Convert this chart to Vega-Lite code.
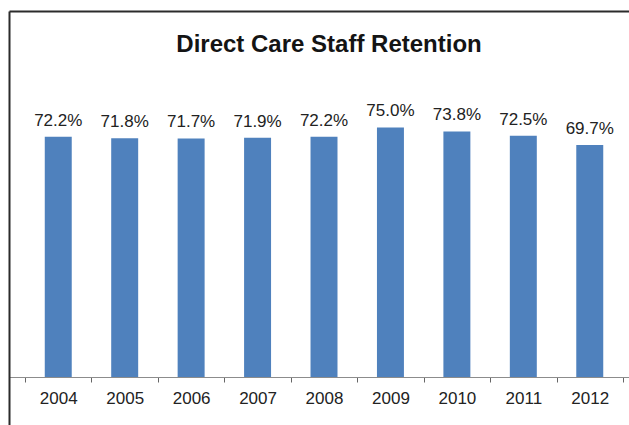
{
  "$schema": "https://vega.github.io/schema/vega-lite/v6.json",
  "autosize": {"type": "none"},
  "width": 620,
  "height": 414,
  "padding": {"left": 9, "top": 11, "right": 0, "bottom": 0},
  "background": "white",
  "config": {"view": {"stroke": null}, "font": "Liberation Sans"},
  "title": {
    "text": "Direct Care Staff Retention",
    "font": "Liberation Sans",
    "fontSize": 24,
    "fontWeight": "bold",
    "color": "#141414",
    "anchor": "middle",
    "baseline": "alphabetic",
    "offset": 0,
    "dx": 10,
    "dy": 65
  },
  "data": {
    "values": [
      {"year": "2004", "retention": 0.722},
      {"year": "2005", "retention": 0.718},
      {"year": "2006", "retention": 0.717},
      {"year": "2007", "retention": 0.719},
      {"year": "2008", "retention": 0.722},
      {"year": "2009", "retention": 0.750},
      {"year": "2010", "retention": 0.738},
      {"year": "2011", "retention": 0.725},
      {"year": "2012", "retention": 0.697}
    ]
  },
  "encoding": {
    "x": {
      "field": "year",
      "type": "nominal",
      "sort": null,
      "scale": {"paddingInner": 0, "paddingOuter": 0.166, "align": 0.727}
    },
    "y": {
      "field": "retention",
      "type": "quantitative",
      "scale": {"domain": [-0.144, 1.10], "nice": false, "zero": false},
      "axis": {
        "orient": "left",
        "domain": true,
        "domainColor": "#2b2b2b",
        "domainWidth": 2,
        "ticks": false,
        "labels": false,
        "grid": false,
        "title": null
      }
    }
  },
  "layer": [
    {
      "mark": {"type": "bar", "color": "#4F81BD", "width": {"band": 0.406}},
      "encoding": {
        "x": {
          "field": "year",
          "type": "nominal",
          "sort": null,
          "axis": {
            "orient": "bottom",
            "offset": -48,
            "title": null,
            "labelAngle": 0,
            "ticks": true,
            "tickBand": "extent",
            "domainColor": "#8c8c8c",
            "domainWidth": 1,
            "tickColor": "#666666",
            "tickWidth": 1,
            "tickSize": 5,
            "labelFont": "Liberation Sans",
            "labelFontSize": 17,
            "labelColor": "#222222",
            "labelPadding": 8
          }
        },
        "y2": {"datum": 0}
      }
    },
    {
      "mark": {
        "type": "text",
        "baseline": "alphabetic",
        "dy": -11,
        "font": "Liberation Sans",
        "fontSize": 17,
        "color": "#222222"
      },
      "encoding": {
        "x": {
          "field": "year",
          "type": "nominal",
          "sort": null,
          "axis": {
            "orient": "top",
            "domain": true,
            "domainColor": "#2b2b2b",
            "domainWidth": 2,
            "ticks": false,
            "labels": false,
            "title": null
          }
        },
        "text": {"field": "retention", "type": "quantitative", "format": ".1%"}
      }
    }
  ],
  "resolve": {"axis": {"x": "independent"}}
}
